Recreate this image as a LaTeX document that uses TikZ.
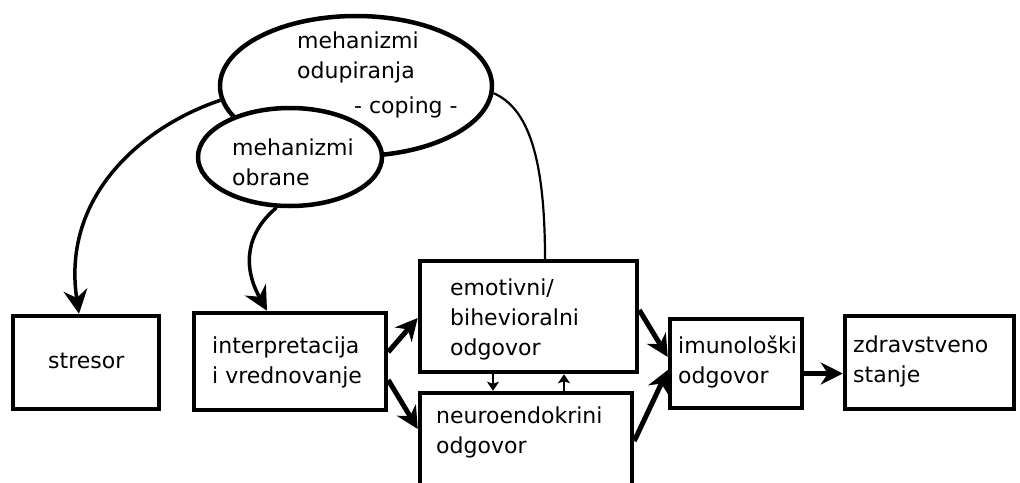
\documentclass[tikz,border=0pt]{standalone}
\usepackage{fontspec}
\setmainfont{DejaVu Sans}
\usetikzlibrary{arrows.meta,shapes.geometric,calc}
\begin{document}
\begin{tikzpicture}[x=1pt,y=-1pt,
  box/.style={draw,line width=4.5pt,rectangle,inner sep=0pt},
  oval/.style={draw,line width=4.5pt,ellipse,inner sep=0pt,fill=white},
  txt/.style={anchor=base west,align=left,inner sep=0pt,font=\fontsize{22}{30}\selectfont},
  big/.style={line width=5pt,-{Stealth[length=22pt,width=22pt,inset=7pt]}},
  curv/.style={line width=3.5pt,-{Stealth[length=24pt,width=24pt,inset=8pt]}},
  small/.style={line width=2.5pt,-{Stealth[length=9pt,width=12pt,inset=2pt]}},
  thin/.style={line width=2.2pt}]
\useasboundingbox (0,0) rectangle (1020,482);
\fill[white] (0,0) rectangle (1020,482);
% boxes
\node[box,minimum width=146pt,minimum height=93pt] (stresor) at (86,362.5) {};
\node[box,minimum width=192pt,minimum height=97pt] (interp) at (290,361.5) {};
\node[box,minimum width=217pt,minimum height=111pt] (emot) at (528.5,316.5) {};
\node[box,minimum width=212pt,minimum height=100pt] (neuro) at (526,443) {};
\node[box,minimum width=132pt,minimum height=89pt] (imun) at (736,363.5) {};
\node[box,minimum width=169pt,minimum height=93pt] (zdrav) at (929.5,362.5) {};
% ellipses
\node[oval,minimum width=272pt,minimum height=140pt] (cope) at (356,86) {};
\node[oval,minimum width=184pt,minimum height=98pt] (obr) at (290,157) {};
% texts (anchor = baseline of last line)
\node[txt] (t1) at (297,78) {mehanizmi\\odupiranja};
\node[txt] (t2) at (354,113) {- coping -};
\node[txt] (t3) at (232,185) {mehanizmi\\obrane};
\node[txt] (t4) at (48,368) {stresor};
\node[txt] (t5) at (212,383) {interpretacija\\i vrednovanje};
\node[txt] (t6) at (450,355) {emotivni/\\bihevioralni\\odgovor};
\node[txt] (t7) at (436,453) {neuroendokrini\\odgovor};
\node[txt] (t8) at (678,383) {imunološki\\odgovor};
\node[txt] (t9) at (853,382) {zdravstveno\\stanje};
% curved connectors
\draw[curv] (cope.186) .. controls +(-75,25) and +(-18,-120) .. ([xshift=-7pt]stresor.north);
\draw[curv] (obr.255) .. controls +(-30,25) and +(-25,-45) .. ([xshift=-23pt]interp.north);
\draw[thin] (cope.-3) .. controls +(35,15) and +(0,-100) .. ([xshift=16.5pt]emot.north);
% straight arrows
\draw[big] ([yshift=9.5pt]interp.east) -- ([yshift=-1.5pt]emot.west);
\draw[big] ([yshift=-18.5pt]interp.east) -- ([yshift=14pt]neuro.west);
\draw[big] ([yshift=6.5pt]emot.east) -- ([yshift=6.5pt]imun.west);
\draw[big] ([yshift=2pt]neuro.east) -- ([yshift=-6.5pt]imun.west);
\coordinate (a) at ([yshift=-10pt]imun.east);
\draw[big] (a) -- (a -| zdrav.west);
\draw[small] ([xshift=-35.5pt]emot.south) -- ([xshift=-35.5pt]emot.south |- neuro.north);
\draw[small] ([xshift=35.5pt]emot.south |- neuro.north) -- ([xshift=35.5pt]emot.south);
\end{tikzpicture}
\end{document}
